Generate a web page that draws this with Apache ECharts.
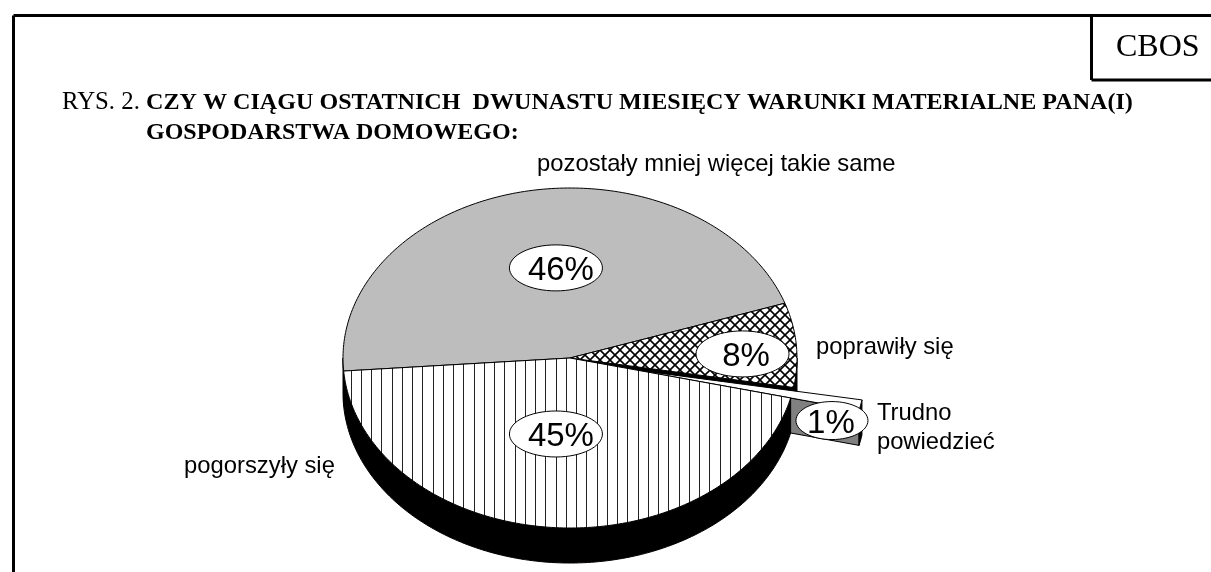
<!DOCTYPE html>
<html>
<head>
<meta charset="utf-8">
<title>CBOS rys. 2</title>
<script src="https://cdn.jsdelivr.net/npm/echarts@6/dist/echarts.min.js"></script>
<style>
  html, body { margin: 0; padding: 0; background: #fff; }
  #chart { width: 1211px; height: 572px; }
</style>
</head>
<body>
<div id="chart"></div>
<script>
// values, clockwise from the left edge of the pie
var categories = ['pozostały mniej więcej takie same', 'poprawiły się', 'Trudno\npowiedzieć', 'pogorszyły się'];
var values = [46, 8, 1, 45];
var valueLabels = ['46%', '8%', '1%', '45%'];

// pie layout, in axis units (the pie is -1..1 on both hidden axes)
var startAngle = 184.4;
var pieDepth = 0.206;
var explode = [0, 0, 0.31, 0];
var percentSpots = [[-0.062, 0.53], [0.76, 0.024], [1.154, -0.368], [-0.062, -0.447]];
var percentSizes = [[46.5, 23], [46.5, 23], [36, 19], [46.5, 23]];
var percentShift = [5, 3.5, -1, 5];
var nameSpots = [[-0.145, 1.141], [1.084, 0.065], [1.352, -0.412], [-1.70, -0.64]];

function makeTile(w, h, draw) {
    var c = document.createElement('canvas');
    c.width = w;
    c.height = h;
    var ctx = c.getContext('2d');
    ctx.fillStyle = '#fff';
    ctx.fillRect(0, 0, w, h);
    draw(ctx);
    return { image: c, repeat: 'repeat' };
}

var crossFill = makeTile(10, 10, function (ctx) {
    ctx.strokeStyle = '#000';
    ctx.lineWidth = 1.6;
    ctx.beginPath();
    ctx.moveTo(0, 0); ctx.lineTo(10, 10);
    ctx.moveTo(10, 0); ctx.lineTo(0, 10);
    ctx.stroke();
});
var stripeFill = makeTile(41, 4, function (ctx) {
    ctx.fillStyle = '#222';
    [2, 12, 23, 33].forEach(function (x) { ctx.fillRect(x, 0, 1, 4); });
});
var topFills = ['#bdbdbd', crossFill, '#ffffff', stripeFill];

// start and end angle of every slice
var total = values.reduce(function (a, b) { return a + b; }, 0);
var sliceAngles = [];
var angleNow = startAngle;
values.forEach(function (v) {
    var next = angleNow - v / total * 360;
    sliceAngles.push([angleNow, next]);
    angleNow = next;
});

function arcPoints(a0, a1, ox, oy, drop) {
    var pts = [];
    var n = Math.max(2, Math.ceil(Math.abs(a1 - a0)));
    for (var i = 0; i <= n; i++) {
        var a = (a0 + (a1 - a0) * i / n) * Math.PI / 180;
        pts.push([ox + Math.cos(a), oy + Math.sin(a) - drop]);
    }
    return pts;
}

function renderSlice(params, api) {
    var i = params.dataIndex;
    var a0 = sliceAngles[i][0], a1 = sliceAngles[i][1];
    var pull = a1 * Math.PI / 180;
    var ox = explode[i] * Math.cos(pull), oy = explode[i] * Math.sin(pull);
    var toPx = function (p) { return api.coord(p); };
    var kids = [];

    // cut face on the lower edge of the two slices that show one
    if (i === 1 || i === 2) {
        var rim = [ox + Math.cos(pull), oy + Math.sin(pull)];
        kids.push({
            type: 'polygon',
            shape: { points: [[ox, oy], rim, [rim[0], rim[1] - pieDepth], [ox, oy - pieDepth]].map(toPx) },
            style: { fill: i === 2 ? '#808080' : '#000', stroke: '#000', lineWidth: 1 }
        });
    }

    // outer wall, only the part below the middle of the pie shows
    var from = a0 > 180 ? a0 : Math.min(a0, 0);
    var to = a0 > 180 ? 180 : a1;
    kids.push({
        type: 'polygon',
        shape: { points: arcPoints(from, to, ox, oy, 0).concat(arcPoints(to, from, ox, oy, pieDepth)).map(toPx) },
        style: { fill: '#000', stroke: '#000', lineWidth: 1 }
    });

    // top face
    kids.push({
        type: 'polygon',
        shape: { points: [[ox, oy]].concat(arcPoints(a0, a1, ox, oy, 0)).map(toPx) },
        style: { fill: topFills[i], stroke: '#000', lineWidth: 1 }
    });
    return { type: 'group', children: kids };
}

function renderLabels(params, api) {
    var i = params.dataIndex;
    var c = api.coord(percentSpots[i]);
    var n = api.coord(nameSpots[i]);
    return {
        type: 'group',
        children: [
            {
                type: 'ellipse',
                shape: { cx: c[0], cy: c[1], rx: percentSizes[i][0], ry: percentSizes[i][1] },
                style: { fill: '#fff', stroke: '#000', lineWidth: 1 }
            },
            {
                type: 'text',
                style: {
                    text: valueLabels[i], x: c[0] + percentShift[i], y: c[1] + 3, align: 'center', verticalAlign: 'middle',
                    font: '33px "Liberation Sans"', fill: '#000'
                }
            },
            {
                type: 'text',
                style: {
                    text: categories[i], x: n[0], y: n[1], align: 'left', verticalAlign: 'middle',
                    font: '23.8px "Liberation Sans"', lineHeight: 29, fill: '#000'
                }
            }
        ]
    };
}

function frameLine(x1, y1, x2, y2) {
    return {
        type: 'line',
        shape: { x1: x1, y1: y1, x2: x2, y2: y2 },
        style: { stroke: '#000', lineWidth: 3 }
    };
}

var sliceData = values.map(function (v, i) { return { name: categories[i], value: [i, v] }; });

var myChart = echarts.init(document.getElementById('chart'), null, { renderer: 'canvas' });

var option = {
    animation: false,
    backgroundColor: '#fff',
    title: [
        {
            left: 57, top: 85,
            text: '{n|RYS. 2. }{b|CZY W CIĄGU OSTATNICH  DWUNASTU MIESIĘCY WARUNKI MATERIALNE PANA(I)}',
            textStyle: {
                fontWeight: 'normal',
                rich: {
                    n: { fontFamily: 'Liberation Serif', fontSize: 24.8, fontWeight: 'normal', color: '#000' },
                    b: { fontFamily: 'Liberation Serif', fontSize: 24.1, fontWeight: 'bold', color: '#000' }
                }
            }
        },
        {
            left: 141, top: 116,
            text: 'GOSPODARSTWA DOMOWEGO:',
            textStyle: { fontFamily: 'Liberation Serif', fontSize: 24, fontWeight: 'bold', color: '#000' }
        },
        {
            left: 1111, top: 27,
            text: 'CBOS',
            textStyle: { fontFamily: 'Liberation Serif', fontSize: 32, fontWeight: 'normal', color: '#000' }
        }
    ],
    grid: { left: 343, top: 188, width: 454, height: 340 },
    xAxis: { type: 'value', min: -1, max: 1, show: false },
    yAxis: { type: 'value', min: -1, max: 1, show: false },
    graphic: [
        frameLine(13.5, 15.5, 1211, 15.5),
        frameLine(13.5, 15.5, 13.5, 572),
        frameLine(1091.5, 15.5, 1091.5, 80),
        frameLine(1091.5, 80, 1211, 80)
    ],
    series: [
        { type: 'custom', name: 'slices', data: sliceData, renderItem: renderSlice, clip: false, silent: true, z: 2 },
        { type: 'custom', name: 'labels', data: sliceData, renderItem: renderLabels, clip: false, silent: true, z: 3 }
    ]
};

myChart.setOption(option);
</script>
</body>
</html>
